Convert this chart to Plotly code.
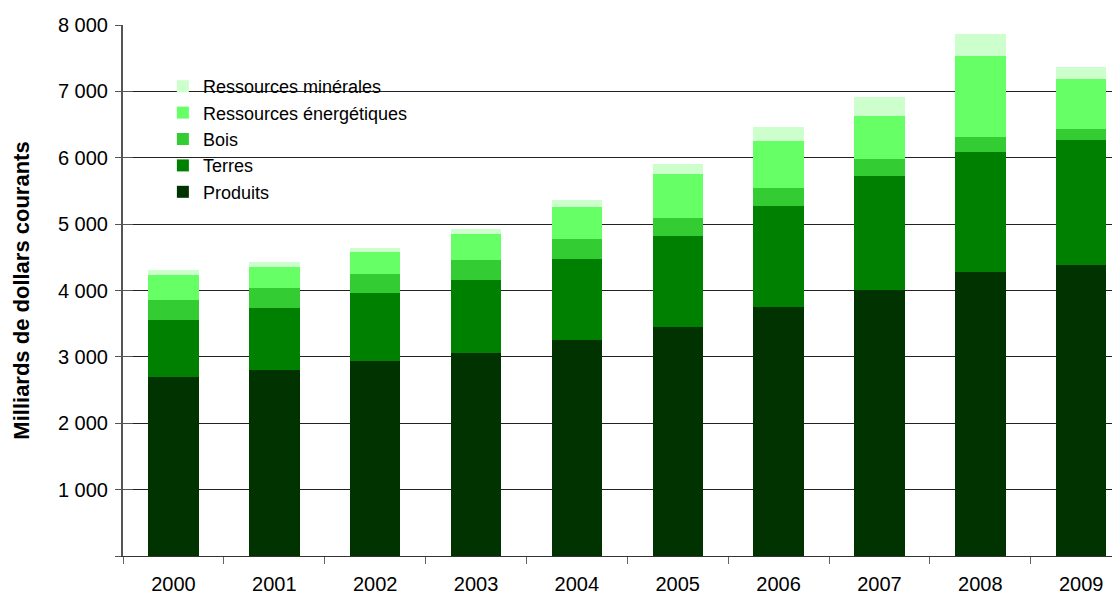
import plotly.graph_objects as go

years = ["2000", "2001", "2002", "2003", "2004", "2005", "2006", "2007", "2008", "2009"]
produits = [2690, 2807, 2942, 3062, 3257, 3452, 3752, 4007, 4278, 4383]
terres = [867, 930, 1021, 1096, 1216, 1366, 1516, 1712, 1816, 1891]
bois = [300, 301, 285, 300, 300, 270, 270, 255, 225, 165]
energie = [376, 315, 330, 390, 480, 661, 721, 660, 1216, 751]
minerales = [80, 75, 60, 75, 105, 150, 210, 285, 330, 180]

series = [
    ("Produits", produits, "#003300"),
    ("Terres", terres, "#008000"),
    ("Bois", bois, "#33CC33"),
    ("Ressources énergétiques", energie, "#66FF66"),
    ("Ressources minérales", minerales, "#CCFFCC"),
]
y_ticks = [0, 1000, 2000, 3000, 4000, 5000, 6000, 7000, 8000]
y_tick_text = ["", "1 000", "2 000", "3 000", "4 000", "5 000", "6 000", "7 000", "8 000"]

fig = go.Figure()
for name, vals, col in series:
    fig.add_trace(go.Bar(x=years, y=vals, name=name, marker=dict(color=col, line=dict(width=0)),
                         width=0.5))
# helper trace so the overlaid axis (inner tick marks) is drawn
fig.add_trace(go.Scatter(x=years, y=[None] * len(years), yaxis="y2", mode="markers",
                         showlegend=False, hoverinfo="skip"))

font = "Liberation Sans, Arial, sans-serif"
fig.update_layout(
    width=1112, height=589,
    margin=dict(l=115, r=0, t=17, b=41, autoexpand=False),
    paper_bgcolor="white", plot_bgcolor="white",
    barmode="stack",
    font=dict(family=font, size=18, color="black"),
    showlegend=True,
    legend=dict(traceorder="reversed", x=0.04, y=0.919, xanchor="left", yanchor="top",
                bgcolor="rgba(0,0,0,0)", font=dict(size=18), tracegroupgap=0,
                itemwidth=30),
    xaxis=dict(type="category", range=[-0.5, 9.385], tickson="boundaries",
               ticks="outside", ticklen=7, tickcolor="#666", showline=True,
               linecolor="#333", linewidth=1, showgrid=False, automargin=False,
               ticklabelstandoff=10, tickfont=dict(size=20)),
    yaxis=dict(range=[0, 8000], tickvals=y_ticks, ticktext=y_tick_text,
               ticks="outside", ticklen=6, tickcolor="#555", showline=True,
               linecolor="#555", linewidth=2, showgrid=True, gridcolor="#222",
               gridwidth=1, zeroline=False, tickfont=dict(size=20),
               ticklabelstandoff=3, automargin=False,
               title=dict(text="<b>Milliards de dollars courants</b>",
                          font=dict(size=22), standoff=22)),
    yaxis2=dict(range=[0, 8000], overlaying="y", anchor="x", side="left",
                tickvals=y_ticks, ticks="inside", ticklen=10, tickcolor="#555",
                showticklabels=False, showgrid=False, showline=False, zeroline=False,
                automargin=False),
    shapes=[dict(type="rect", xref="paper", yref="y", x0=0.0, x1=0.36, y0=5300, y1=7400,
                 fillcolor="white", line=dict(width=0), layer="between")],
)
fig.write_html("out.html")
